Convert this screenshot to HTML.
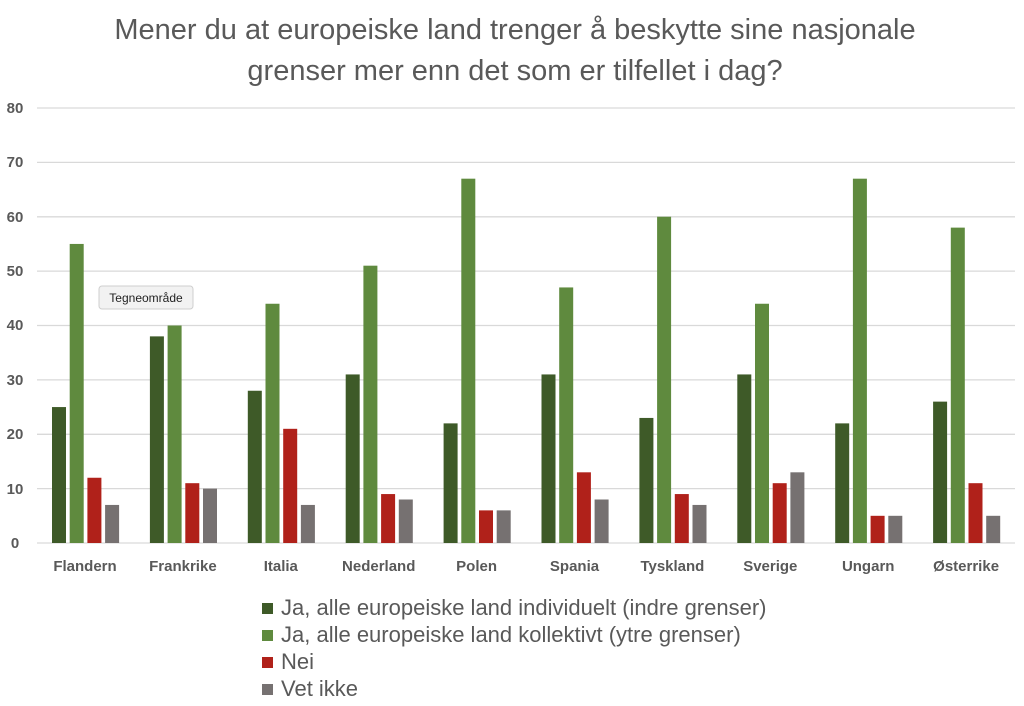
<!DOCTYPE html>
<html><head><meta charset="utf-8"><style>
body{margin:0;background:#fff;}
svg{display:block;font-family:"Liberation Sans",sans-serif;}
</style></head><body>
<svg width="1024" height="706" viewBox="0 0 1024 706" xmlns="http://www.w3.org/2000/svg">
<text x="515" y="39" text-anchor="middle" font-size="29" fill="#595959">Mener du at europeiske land trenger å beskytte sine nasjonale</text>
<text x="515" y="80" text-anchor="middle" font-size="29" fill="#595959">grenser mer enn det som er tilfellet i dag?</text>
<g stroke="#d9d9d9" stroke-width="1.3">
<line x1="37" x2="1015" y1="108" y2="108"/><line x1="37" x2="1015" y1="162.4" y2="162.4"/><line x1="37" x2="1015" y1="216.8" y2="216.8"/><line x1="37" x2="1015" y1="271.1" y2="271.1"/><line x1="37" x2="1015" y1="325.5" y2="325.5"/><line x1="37" x2="1015" y1="379.9" y2="379.9"/><line x1="37" x2="1015" y1="434.3" y2="434.3"/><line x1="37" x2="1015" y1="488.6" y2="488.6"/><line x1="37" x2="1015" y1="543" y2="543"/>
</g>
<g font-size="15" font-weight="bold" fill="#595959" text-anchor="middle">
<text x="15" y="113">80</text><text x="15" y="167">70</text><text x="15" y="222">60</text><text x="15" y="276">50</text><text x="15" y="330">40</text><text x="15" y="385">30</text><text x="15" y="439">20</text><text x="15" y="494">10</text><text x="15" y="548">0</text>
</g>
<g transform="translate(52,543) scale(1,-5.4375)"><rect x="0" y="0" width="14" height="25" fill="#3e5a28"/><rect x="17.7" y="0" width="14" height="55" fill="#5f8a3e"/><rect x="35.4" y="0" width="14" height="12" fill="#b0211a"/><rect x="53.1" y="0" width="14" height="7" fill="#767171"/></g>
<g transform="translate(149.9,543) scale(1,-5.4375)"><rect x="0" y="0" width="14" height="38" fill="#3e5a28"/><rect x="17.7" y="0" width="14" height="40" fill="#5f8a3e"/><rect x="35.4" y="0" width="14" height="11" fill="#b0211a"/><rect x="53.1" y="0" width="14" height="10" fill="#767171"/></g>
<g transform="translate(247.8,543) scale(1,-5.4375)"><rect x="0" y="0" width="14" height="28" fill="#3e5a28"/><rect x="17.7" y="0" width="14" height="44" fill="#5f8a3e"/><rect x="35.4" y="0" width="14" height="21" fill="#b0211a"/><rect x="53.1" y="0" width="14" height="7" fill="#767171"/></g>
<g transform="translate(345.7,543) scale(1,-5.4375)"><rect x="0" y="0" width="14" height="31" fill="#3e5a28"/><rect x="17.7" y="0" width="14" height="51" fill="#5f8a3e"/><rect x="35.4" y="0" width="14" height="9" fill="#b0211a"/><rect x="53.1" y="0" width="14" height="8" fill="#767171"/></g>
<g transform="translate(443.6,543) scale(1,-5.4375)"><rect x="0" y="0" width="14" height="22" fill="#3e5a28"/><rect x="17.7" y="0" width="14" height="67" fill="#5f8a3e"/><rect x="35.4" y="0" width="14" height="6" fill="#b0211a"/><rect x="53.1" y="0" width="14" height="6" fill="#767171"/></g>
<g transform="translate(541.5,543) scale(1,-5.4375)"><rect x="0" y="0" width="14" height="31" fill="#3e5a28"/><rect x="17.7" y="0" width="14" height="47" fill="#5f8a3e"/><rect x="35.4" y="0" width="14" height="13" fill="#b0211a"/><rect x="53.1" y="0" width="14" height="8" fill="#767171"/></g>
<g transform="translate(639.4,543) scale(1,-5.4375)"><rect x="0" y="0" width="14" height="23" fill="#3e5a28"/><rect x="17.7" y="0" width="14" height="60" fill="#5f8a3e"/><rect x="35.4" y="0" width="14" height="9" fill="#b0211a"/><rect x="53.1" y="0" width="14" height="7" fill="#767171"/></g>
<g transform="translate(737.3,543) scale(1,-5.4375)"><rect x="0" y="0" width="14" height="31" fill="#3e5a28"/><rect x="17.7" y="0" width="14" height="44" fill="#5f8a3e"/><rect x="35.4" y="0" width="14" height="11" fill="#b0211a"/><rect x="53.1" y="0" width="14" height="13" fill="#767171"/></g>
<g transform="translate(835.2,543) scale(1,-5.4375)"><rect x="0" y="0" width="14" height="22" fill="#3e5a28"/><rect x="17.7" y="0" width="14" height="67" fill="#5f8a3e"/><rect x="35.4" y="0" width="14" height="5" fill="#b0211a"/><rect x="53.1" y="0" width="14" height="5" fill="#767171"/></g>
<g transform="translate(933.1,543) scale(1,-5.4375)"><rect x="0" y="0" width="14" height="26" fill="#3e5a28"/><rect x="17.7" y="0" width="14" height="58" fill="#5f8a3e"/><rect x="35.4" y="0" width="14" height="11" fill="#b0211a"/><rect x="53.1" y="0" width="14" height="5" fill="#767171"/></g>
<g font-size="15" font-weight="bold" fill="#595959" text-anchor="middle">
<text x="85" y="571">Flandern</text><text x="182.9" y="571">Frankrike</text><text x="280.8" y="571">Italia</text><text x="378.7" y="571">Nederland</text><text x="476.6" y="571">Polen</text><text x="574.5" y="571">Spania</text><text x="672.4" y="571">Tyskland</text><text x="770.3" y="571">Sverige</text><text x="868.2" y="571">Ungarn</text><text x="966.1" y="571">Østerrike</text>
</g>
<rect x="99" y="286" width="94" height="23" rx="3" fill="#f2f2f2" stroke="#cfcfcf"/>
<text x="146" y="302" text-anchor="middle" font-size="12" fill="#222">Tegneområde</text>
<g font-size="22" fill="#595959">
<rect x="262" y="603" width="11" height="11" fill="#3e5a28"/><text x="281" y="615">Ja, alle europeiske land individuelt (indre grenser)</text>
<rect x="262" y="630" width="11" height="11" fill="#5f8a3e"/><text x="281" y="642">Ja, alle europeiske land kollektivt (ytre grenser)</text>
<rect x="262" y="657" width="11" height="11" fill="#b0211a"/><text x="281" y="669">Nei</text>
<rect x="262" y="684" width="11" height="11" fill="#767171"/><text x="281" y="696">Vet ikke</text>
</g>
</svg>
</body></html>
